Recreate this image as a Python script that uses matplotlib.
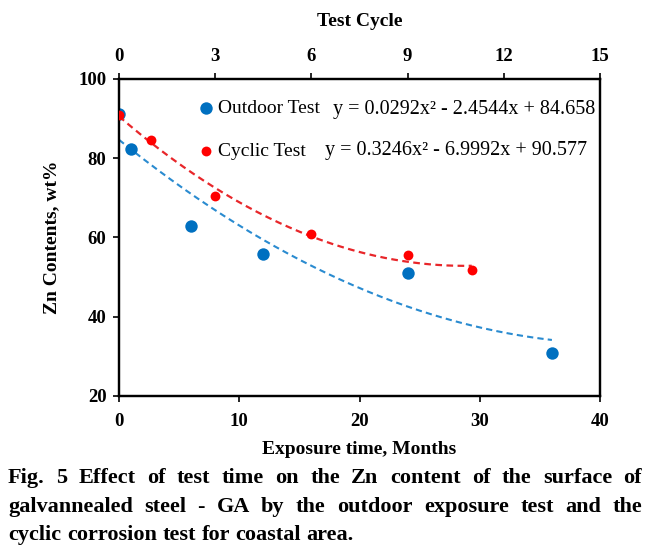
# Teor de Zn vs tempo de exposição (ensaio externo e ensaio cíclico)
import matplotlib
matplotlib.use("Agg")
import matplotlib.pyplot as plt
import numpy as np

# dados
outdoor_months = [0, 1, 6, 12, 24, 36]
outdoor_zn = [91.2, 82.3, 62.9, 55.8, 51.1, 30.9]
cyclic_cycles = [0, 1, 3, 6, 9, 11]
cyclic_zn = [91.0, 84.6, 70.5, 60.9, 55.6, 51.9]

# coeficientes das linhas de tendência (texto do gráfico)
outdoor_fit = [0.0292, -2.4544, 84.658]
cyclic_fit = [0.3246, -6.9992, 90.577]
outdoor_eq = "y = 0.0292x² - 2.4544x + 84.658"
cyclic_eq = "y = 0.3246x² - 6.9992x + 90.577"

month_ticks = [0, 10, 20, 30, 40]
cycle_ticks = [0, 3, 6, 9, 12, 15]
zn_ticks = [20, 40, 60, 80, 100]

caption_lines = [
    "Fig. 5 Effect of test time on the Zn content of the surface of",
    "galvannealed steel - GA by the outdoor exposure test and the",
    "cyclic corrosion test for coastal area.",
]

BLUE = "#0070C0"
RED = "#FF0000"
SERIF = "Liberation Serif"

plt.rcParams["font.family"] = SERIF

W, H = 664, 551
fig = plt.figure(figsize=(W / 100, H / 100), dpi=100)
fig.patch.set_facecolor("white")
ax = fig.add_axes([119 / W, 1 - 396 / H, (600 - 119) / W, (396 - 79) / H])

for sp in ax.spines.values():
    sp.set_linewidth(1.6)

# série externa (eixo inferior, meses)
xs = np.linspace(0, max(outdoor_months), 200)
ax.plot(xs, np.polyval(outdoor_fit, xs), color="#2A8BD0", lw=1.5, ls=(0, (3, 2)), zorder=2)
h1 = ax.scatter(outdoor_months, outdoor_zn, s=80, color=BLUE, zorder=4, linewidths=0)

ax.set_xlim(0, 40)
ax.set_ylim(20, 100)
ax.set_xticks(month_ticks)
ax.set_yticks(zn_ticks)
ax.tick_params(direction="out", length=4, width=1.2, labelsize=13.5)
ax.tick_params(axis="x", pad=8)
ax.tick_params(axis="y", pad=5)
for lab in ax.get_xticklabels() + ax.get_yticklabels():
    lab.set_fontweight("bold")
ax.set_xlabel("Exposure time, Months", fontsize=14, fontweight="bold", labelpad=8)
ax.set_ylabel("Zn Contents, wt%", fontsize=14, fontweight="bold", labelpad=13)

# série cíclica (eixo superior, ciclos)
ax2 = ax.twiny()
ax2.set_xlim(0, 15)
ax2.set_ylim(20, 100)
xc = np.linspace(0, max(cyclic_cycles), 200)
ax2.plot(xc, np.polyval(cyclic_fit, xc), color="#E8262A", lw=1.6, ls=(0, (3, 2)), zorder=2)
h2 = ax2.scatter(cyclic_cycles, cyclic_zn, s=50, color=RED, zorder=4, linewidths=0)
ax2.set_xticks(cycle_ticks)
ax2.tick_params(direction="out", length=4, width=1.2, labelsize=13.5, pad=6)
for lab in ax2.get_xticklabels():
    lab.set_fontweight("bold")
ax2.set_xlabel("Test Cycle", fontsize=14, fontweight="bold", labelpad=16)
for sp in ax2.spines.values():
    sp.set_linewidth(1.6)

# legenda e equações
leg = ax2.legend([h1, h2], ["Outdoor Test", "Cyclic Test"], loc="upper left",
                 bbox_to_anchor=(0.156, 0.935), frameon=False, fontsize=14,
                 handletextpad=0.05, labelspacing=1.3, handlelength=1.2,
                 borderaxespad=0, borderpad=0)
fig.text(333 / W, 1 - 110 / H, outdoor_eq, fontsize=14.5, va="center", ha="left")
fig.text(325 / W, 1 - 151 / H, cyclic_eq, fontsize=14.5, va="center", ha="left")

# legenda da figura, justificada
renderer = fig.canvas.get_renderer()
left_px, right_px = 8, 642
target = right_px - left_px


def text_width(s, size):
    t = fig.text(0, 0, s, fontsize=size, fontweight="bold")
    w = t.get_window_extent(renderer).width
    t.remove()
    return w


size = 16.0
widest = max(sum(text_width(w, size) for w in line.split()) + 3 * (len(line.split()) - 1)
             for line in caption_lines[:2])
if widest > target:
    size *= target / widest

baselines = [483, 512, 540]
for i, line in enumerate(caption_lines):
    words = line.split()
    widths = [text_width(w, size) for w in words]
    if i < len(caption_lines) - 1:
        gap = (target - sum(widths)) / (len(words) - 1)
    else:
        gap = text_width("a a", size) - 2 * text_width("a", size)
    x = left_px
    for w, wd in zip(words, widths):
        fig.text(x / W, 1 - baselines[i] / H, w, fontsize=size, fontweight="bold",
                 va="baseline", ha="left")
        x += wd + gap

fig.savefig("out.png", dpi=100, facecolor="white")
